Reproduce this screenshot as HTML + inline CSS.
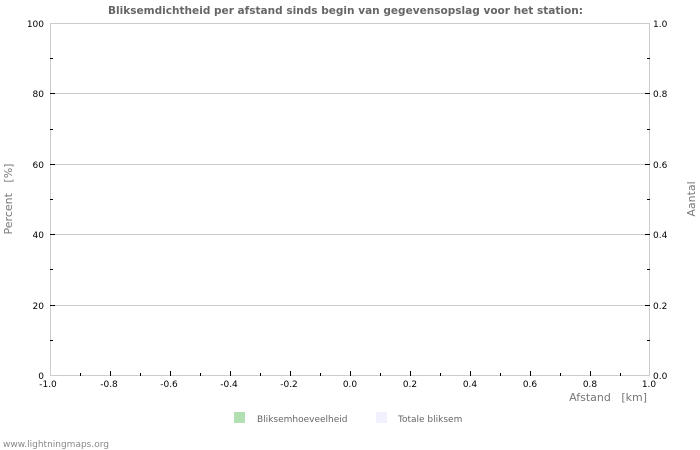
<!DOCTYPE html>
<html><head><meta charset="utf-8"><style>
body{margin:0;background:#fff;}
svg{display:block;font-family:"DejaVu Sans","Liberation Sans",sans-serif;}
text{white-space:pre;}
</style></head><body>
<svg width="700" height="450" viewBox="0 0 700 450" xmlns="http://www.w3.org/2000/svg">
<rect width="700" height="450" fill="#fff"/>
<text x="108" y="14" font-size="11" font-weight="bold" fill="#666" textLength="475" lengthAdjust="spacingAndGlyphs">Bliksemdichtheid per afstand sinds begin van gegevensopslag voor het station:</text>
<g stroke="#ccc" stroke-width="1" shape-rendering="crispEdges">
<line x1="50" y1="23.5" x2="650" y2="23.5"/>
<line x1="50" y1="93.5" x2="650" y2="93.5"/>
<line x1="50" y1="164.5" x2="650" y2="164.5"/>
<line x1="50" y1="234.5" x2="650" y2="234.5"/>
<line x1="50" y1="305.5" x2="650" y2="305.5"/>
<line x1="50" y1="375.5" x2="650" y2="375.5"/>
<line x1="50.5" y1="23" x2="50.5" y2="376"/>
<line x1="649.5" y1="23" x2="649.5" y2="376"/>
</g>
<g stroke="#000" stroke-width="1" shape-rendering="crispEdges">
<line x1="50" y1="58.5" x2="53" y2="58.5"/><line x1="50" y1="93.5" x2="55" y2="93.5"/>
<line x1="50" y1="129.5" x2="53" y2="129.5"/><line x1="50" y1="164.5" x2="55" y2="164.5"/>
<line x1="50" y1="199.5" x2="53" y2="199.5"/><line x1="50" y1="234.5" x2="55" y2="234.5"/>
<line x1="50" y1="269.5" x2="53" y2="269.5"/><line x1="50" y1="305.5" x2="55" y2="305.5"/>
<line x1="50" y1="340.5" x2="53" y2="340.5"/>
<line x1="647" y1="58.5" x2="650" y2="58.5"/><line x1="645" y1="93.5" x2="650" y2="93.5"/>
<line x1="647" y1="129.5" x2="650" y2="129.5"/><line x1="645" y1="164.5" x2="650" y2="164.5"/>
<line x1="647" y1="199.5" x2="650" y2="199.5"/><line x1="645" y1="234.5" x2="650" y2="234.5"/>
<line x1="647" y1="269.5" x2="650" y2="269.5"/><line x1="645" y1="305.5" x2="650" y2="305.5"/>
<line x1="647" y1="340.5" x2="650" y2="340.5"/>
<line x1="80.5" y1="373" x2="80.5" y2="376"/><line x1="110.5" y1="371" x2="110.5" y2="376"/>
<line x1="140.5" y1="373" x2="140.5" y2="376"/><line x1="170.5" y1="371" x2="170.5" y2="376"/>
<line x1="200.5" y1="373" x2="200.5" y2="376"/><line x1="230.5" y1="371" x2="230.5" y2="376"/>
<line x1="260.5" y1="373" x2="260.5" y2="376"/><line x1="290.5" y1="371" x2="290.5" y2="376"/>
<line x1="320.5" y1="373" x2="320.5" y2="376"/><line x1="350.5" y1="371" x2="350.5" y2="376"/>
<line x1="380.5" y1="373" x2="380.5" y2="376"/><line x1="410.5" y1="371" x2="410.5" y2="376"/>
<line x1="440.5" y1="373" x2="440.5" y2="376"/><line x1="470.5" y1="371" x2="470.5" y2="376"/>
<line x1="500.5" y1="373" x2="500.5" y2="376"/><line x1="530.5" y1="371" x2="530.5" y2="376"/>
<line x1="560.5" y1="373" x2="560.5" y2="376"/><line x1="590.5" y1="371" x2="590.5" y2="376"/>
<line x1="620.5" y1="373" x2="620.5" y2="376"/>
</g>
<g font-size="9" fill="#000" text-anchor="end">
<text x="44" y="27">100</text><text x="44" y="97">80</text><text x="44" y="168">60</text>
<text x="44" y="238">40</text><text x="44" y="309">20</text><text x="44" y="379">0</text>
</g>
<g font-size="9" fill="#000" text-anchor="start">
<text x="653" y="27">1.0</text><text x="653" y="97">0.8</text><text x="653" y="168">0.6</text>
<text x="653" y="238">0.4</text><text x="653" y="309">0.2</text><text x="653" y="379">0.0</text>
</g>
<g font-size="9" fill="#000" text-anchor="middle">
<text x="48" y="387">-1.0</text><text x="109" y="387">-0.8</text><text x="169" y="387">-0.6</text>
<text x="229" y="387">-0.4</text><text x="289" y="387">-0.2</text><text x="350" y="387">0.0</text>
<text x="410" y="387">0.2</text><text x="470" y="387">0.4</text><text x="530" y="387">0.6</text>
<text x="590" y="387">0.8</text><text x="649" y="387">1.0</text>
</g>
<text x="647" y="401" font-size="11" fill="#777" text-anchor="end" xml:space="preserve">Afstand   [km]</text>
<text transform="translate(12,199) rotate(-90)" font-size="11" fill="#777" text-anchor="middle" xml:space="preserve">Percent   [%]</text>
<text transform="translate(695,199) rotate(-90)" font-size="11" fill="#777" text-anchor="middle">Aantal</text>
<rect x="234" y="412" width="11" height="11" fill="#b3e0b3"/>
<text x="257" y="422" font-size="9" fill="#666">Bliksemhoeveelheid</text>
<rect x="376" y="412" width="11" height="11" fill="#f0f0ff"/>
<text x="398" y="422" font-size="9" fill="#666">Totale bliksem</text>
<text x="3" y="447" font-size="9" fill="#888">www.lightningmaps.org</text>
</svg>
</body></html>
